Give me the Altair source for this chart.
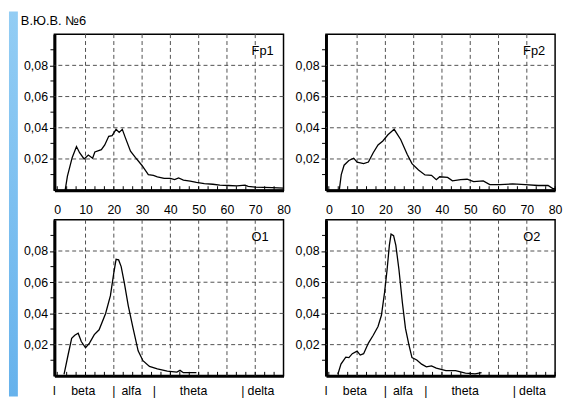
import altair as alt
import pandas as pd

title_text = "В.Ю.В. №6"

fp1_f = [2.8, 3.6, 5.3, 6.8, 7.9, 9.5, 11.0, 12.5, 13.3, 15.6, 16.8, 18.2, 19.4, 20.8, 21.9, 23.0, 24.0,
         25.9, 27.6, 29.9, 32.2, 34.0, 35.4, 37.8, 40.0, 41.5, 42.9, 44.6, 47.0, 49.2, 52.0, 55.0,
         57.5, 60.5, 63.5, 66.4, 67.5, 70.0, 73.0, 76.0, 80.0]
fp1_v = [0.000, 0.009, 0.021, 0.028, 0.024, 0.020, 0.0225, 0.0205, 0.0245, 0.026, 0.029, 0.0345, 0.035,
         0.039, 0.037, 0.039, 0.034, 0.025, 0.021, 0.016, 0.010, 0.0095, 0.0086, 0.0075, 0.0075, 0.0068,
         0.0078, 0.0065, 0.0058, 0.0050, 0.0042, 0.0038, 0.0033, 0.0030, 0.0027, 0.0032, 0.0025, 0.0020,
         0.0018, 0.0016, 0.0013]

fp2_f = [3.7, 4.4, 5.4, 7.1, 8.8, 10.0, 12.3, 14.0, 15.7, 17.4, 19.1, 20.9, 23.1, 25.4, 27.7, 29.4,
         31.7, 34.0, 36.3, 38.0, 39.2, 42.0, 43.7, 46.6, 48.9, 51.2, 54.6, 56.9, 60.4, 65.0, 69.5,
         74.0, 77.5, 79.2, 80.0]
fp2_v = [0.000, 0.010, 0.016, 0.019, 0.0205, 0.018, 0.017, 0.018, 0.024, 0.029, 0.0315, 0.0355, 0.039,
         0.0325, 0.023, 0.017, 0.013, 0.0098, 0.0095, 0.0067, 0.0086, 0.0082, 0.0060, 0.0067, 0.0070,
         0.0055, 0.0060, 0.0036, 0.0036, 0.0040, 0.0036, 0.0030, 0.0030, 0.0010, 0.0010]

o1_f = [2.4, 3.9, 5.1, 6.2, 7.4, 8.5, 10.0, 11.4, 13.1, 14.8, 17.1, 18.8, 20.0, 20.8, 21.7, 22.6,
        23.7, 25.1, 26.8, 28.6, 30.3, 32.6, 35.4, 38.9, 42.3, 43.4, 44.6, 49.2]
o1_v = [0.001, 0.014, 0.024, 0.026, 0.0273, 0.022, 0.018, 0.021, 0.0264, 0.0295, 0.040, 0.0514, 0.066,
        0.0747, 0.0743, 0.070, 0.0597, 0.045, 0.0306, 0.016, 0.0097, 0.006, 0.0045, 0.003, 0.0024,
        0.0035, 0.002, 0.002]

o2_f = [3.2, 4.3, 6.0, 7.1, 8.3, 10.0, 11.1, 12.3, 14.0, 15.7, 17.4, 18.6, 19.7, 20.6, 21.4, 22.0,
        22.9, 23.7, 24.8, 26.0, 27.1, 28.3, 29.4, 31.1, 32.8, 34.5, 36.3, 38.0, 41.4, 44.8, 48.3,
        51.7, 54.0]
o2_v = [0.001, 0.0075, 0.012, 0.0117, 0.0142, 0.0158, 0.0133, 0.0142, 0.021, 0.026, 0.0316, 0.0388,
        0.0533, 0.068, 0.0836, 0.0908, 0.0898, 0.0836, 0.068, 0.047, 0.0304, 0.020, 0.0117, 0.0102,
        0.0075, 0.0058, 0.0064, 0.005, 0.0033, 0.0033, 0.0017, 0.0013, 0.002]

x_labels = [0, 10, 20, 30, 40, 50, 60, 70, 80]
y_labels = [0.02, 0.04, 0.06, 0.08]
grid_x = [10, 20, 30, 40, 50, 60, 70]
grid_y = [0.02, 0.04, 0.06, 0.08]
minor_y = [0.01, 0.03, 0.05, 0.07, 0.09]
minor_x = [0, 3.33, 6.67, 10, 13.33, 16.67, 20, 23.33, 26.67, 30, 33.33, 36.67, 40, 43.33, 46.67,
           50, 53.33, 56.67, 60, 63.33, 66.67, 70, 73.33, 76.67, 80]
band_text = ["ǀ", "beta", "|", "alfa", "|", "theta", "|", "delta"]
band_pos = [-1, 9.2, 20, 26.2, 34.3, 48.2, 65.6, 72]

W, H = 232, 158
FONT = "Liberation Sans"
xs = alt.Scale(domain=[-1, 80], nice=False, zero=False)
ys = alt.Scale(domain=[0, 0.1], nice=False, zero=False)
one = pd.DataFrame({"a": [0]})


def panel(f, v, name, top_row, name_dx, first=False):
    if top_row:
        xaxis = alt.Axis(values=x_labels, grid=False, ticks=False, labelPadding=14,
                         labelFlush=False, title=None)
    else:
        xaxis = alt.Axis(values=x_labels, grid=False, ticks=False, labels=False, title=None)
    yaxis = alt.Axis(values=y_labels, grid=False, tickSize=5, labelPadding=2, title=None,
                     labelExpr="replace(format(datum.value, '.2f'), '.', ',')")

    df = pd.DataFrame({"f": f, "v": v})
    gx = alt.Chart(pd.DataFrame({"gx": grid_x})).mark_rule(
        color="#505050", strokeDash=[4, 3], strokeWidth=1).encode(
        x=alt.X("gx:Q", scale=xs, axis=xaxis))
    gy = alt.Chart(pd.DataFrame({"gy": grid_y})).mark_rule(
        color="#505050", strokeDash=[4, 3], strokeWidth=1).encode(
        y=alt.Y("gy:Q", scale=ys, axis=yaxis))
    mx = alt.Chart(pd.DataFrame({"mx": minor_x})).mark_rule(color="black", strokeWidth=1).encode(
        x=alt.X("mx:Q", scale=xs, axis=xaxis), y=alt.value(H), y2=alt.value(H - 4))
    my = alt.Chart(pd.DataFrame({"my": minor_y})).mark_rule(color="black", strokeWidth=1).encode(
        y=alt.Y("my:Q", scale=ys, axis=yaxis), x=alt.value(-4), x2=alt.value(0))
    line = alt.Chart(df).mark_line(color="black", strokeWidth=1.3).encode(
        x=alt.X("f:Q", scale=xs, axis=xaxis),
        y=alt.Y("v:Q", scale=ys, axis=yaxis))
    lab = alt.Chart(pd.DataFrame({"t": [name]})).mark_text(
        align="right", baseline="alphabetic", fontSize=13, font=FONT, color="black").encode(
        x=alt.value(W - name_dx), y=alt.value(21), text="t:N")
    layers = [gx, gy, mx, my, line, lab]
    if not top_row:
        bands = alt.Chart(pd.DataFrame({"bp": band_pos, "bt": band_text})).mark_text(
            fontSize=12.5, font=FONT, baseline="middle", color="black").encode(
            x=alt.X("bp:Q", scale=xs, axis=xaxis), y=alt.value(H + 15), text="bt:N")
        layers.append(bands)
    if first:
        rect = alt.Chart(one).mark_rect(
            fill=alt.LinearGradient(
                gradient="linear",
                stops=[alt.GradientStop(color="#93cdf4", offset=0),
                       alt.GradientStop(color="#66b2ec", offset=1)],
                x1=0, x2=0, y1=0, y2=1)).encode(
            x=alt.value(-46), x2=alt.value(-37), y=alt.value(-23), y2=alt.value(367))
        ttl = alt.Chart(pd.DataFrame({"t": [title_text]})).mark_text(
            align="left", baseline="middle", fontSize=13, font=FONT, color="black").encode(
            x=alt.value(-34), y=alt.value(-13), text="t:N")
        layers = [rect, ttl] + layers
    return alt.layer(*layers).properties(width=W, height=H)


p1 = panel(fp1_f, fp1_v, "Fp1", True, 10, first=True)
p2 = panel(fp2_f, fp2_v, "Fp2", True, 10)
p3 = panel(o1_f, o1_v, "O1", False, 15)
p4 = panel(o2_f, o2_v, "O2", False, 15)

chart = alt.concat(p1, p2, p3, p4, columns=2, spacing={"row": 30, "column": 43},
                   bounds="flush").properties(
    padding=0, background="white"
).configure_view(
    stroke="black", strokeWidth=1.5
).configure_axis(
    labelFont=FONT, labelFontSize=12.5, labelColor="black",
    domainColor="black", domainWidth=3, tickColor="black", tickWidth=1
)

chart.save("out.html", embed_options={"renderer": "svg", "actions": False})
